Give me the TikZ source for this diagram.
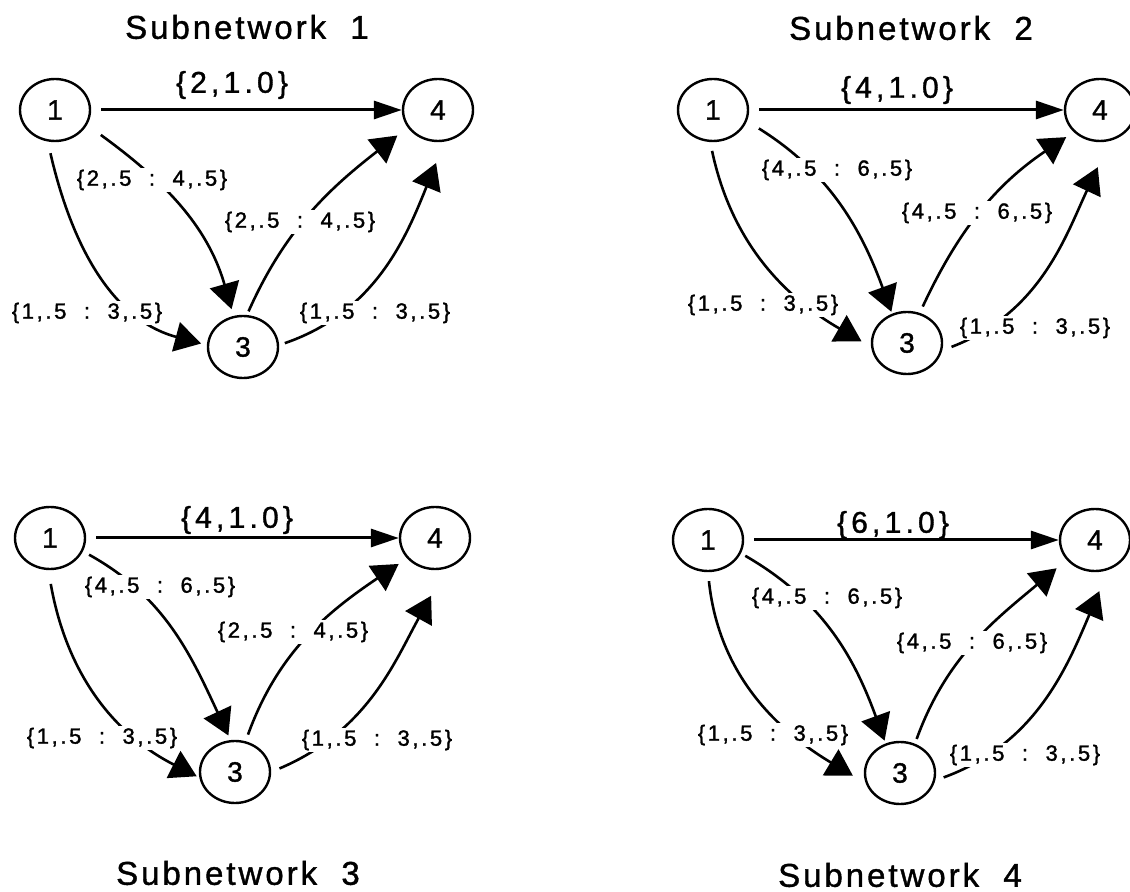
\documentclass[tikz,border=0pt]{standalone}
\usepackage{fontspec}
\setmainfont{Liberation Sans}
\newfontfamily\nofont[FakeBold=1.2]{Liberation Sans}
\newfontfamily\rotfont[LetterSpace=12, FakeBold=1.5]{Liberation Sans}
\newfontfamily\pesofont[LetterSpace=14, FakeBold=1.2]{Liberation Sans}
\newfontfamily\titfont[LetterSpace=9, FakeBold=1.2]{Liberation Sans}
\usetikzlibrary{arrows.meta, shapes.geometric}

\begin{document}
\begin{tikzpicture}[x=0.5pt, y=0.5pt,
        no/.style={draw, ellipse, line width=1.2pt, minimum width=35pt, minimum height=31pt, inner sep=0pt, font=\nofont\fontsize{14}{14}\selectfont},
        rot/.style={fill=white, inner sep=1pt, font=\rotfont\fontsize{11}{11}\selectfont},
        peso/.style={inner sep=1pt, font=\pesofont\fontsize{15}{15}\selectfont},
        titulo/.style={font=\titfont\fontsize{16.5}{16.5}\selectfont},
        reta/.style={-{Triangle[length=14pt, width=9pt]}, line width=1.5pt, shorten <=5pt},
        seta/.style={-{Triangle[length=13pt, width=15pt]}, line width=1.3pt}]

        \useasboundingbox (0,0) rectangle (1130,-892);

        % Sub-rede 1
        \node (t1) [titulo] at (247,-27) {Subnetwork\ \ 1};
        \node (s1n1) [no] at (55,-110) {1};
        \node (s1n3) [no] at (243,-347) {3};
        \node (s1n4) [no] at (438,-110) {4};
        \draw[reta] (s1n1) -- (s1n4);
        \draw[seta, shorten <=6pt, shorten >=3pt] (s1n1.257) to[out=-77, in=165] (s1n3.177);
        \draw[seta, shorten <=8.5pt, shorten >=3.5pt] (s1n1.-25) to[out=-36, in=106] (s1n3.107);
        \draw[seta, shorten <=2pt, shorten >=6.5pt] (s1n3.83) to[out=66, in=218] (s1n4.210);
        \draw[seta, shorten <=3pt, shorten >=11.5pt] (s1n3.3) to[out=19, in=248] (s1n4.282);
        \node (p1) [peso] at (232,-85) {\{2,1.0\}};
        \node (r1a) [rot] at (152,-180) {\{2,.5\ \ :\ \ 4,.5\}};
        \node (r1b) [rot] at (300,-222) {\{2,.5\ \ :\ \ 4,.5\}};
        \node (r1c) [rot] at (87,-313) {\{1,.5\ \ :\ \ 3,.5\}};
        \node (r1d) [rot] at (375,-313) {\{1,.5\ \ :\ \ 3,.5\}};

        % Sub-rede 2
        \node (t2) [titulo] at (911,-28) {Subnetwork\ \ 2};
        \node (s2n1) [no] at (713,-110) {1};
        \node (s2n3) [no] at (907,-343) {3};
        \node (s2n4) [no] at (1100,-110) {4};
        \draw[reta] (s2n1) -- (s2n4);
        \draw[seta, shorten <=4.5pt, shorten >=5.5pt] (s2n1.265) to[out=-78, in=150] (s2n3.186);
        \draw[seta, shorten <=7pt, shorten >=1pt] (s2n1.-18) to[out=-32, in=110] (s2n3.117);
        \draw[seta, shorten <=3.5pt, shorten >=4.5pt] (s2n3.67) to[out=65, in=214] (s2n4.220);
        \draw[seta, shorten <=5pt, shorten >=14.5pt] (s2n3.-12) to[out=21, in=245] (s2n4.-72);
        \node (p2) [peso] at (897,-90) {\{4,1.0\}};
        \node (r2a) [rot] at (837,-170) {\{4,.5\ \ :\ \ 6,.5\}};
        \node (r2b) [rot] at (977,-213) {\{4,.5\ \ :\ \ 6,.5\}};
        \node (r2c) [rot] at (763,-305) {\{1,.5\ \ :\ \ 3,.5\}};
        \node (r2d) [rot] at (1035,-328) {\{1,.5\ \ :\ \ 3,.5\}};

        % Sub-rede 3
        \node (t3) [titulo] at (238,-873) {Subnetwork\ \ 3};
        \node (s3n1) [no] at (50,-538) {1};
        \node (s3n3) [no] at (235,-772) {3};
        \node (s3n4) [no] at (435,-538) {4};
        \draw[reta] (s3n1) -- (s3n4);
        \draw[seta, shorten <=7pt, shorten >=1.5pt] (s3n1.267) to[out=-80, in=153] (s3n3.189);
        \draw[seta, shorten <=3.5pt, shorten >=2.5pt] (s3n1.-22) to[out=-29, in=115] (s3n3.98);
        \draw[seta, shorten <=3.5pt, shorten >=5pt] (s3n3.71) to[out=70, in=214] (s3n4.216);
        \draw[seta, shorten <=4.5pt, shorten >=15.5pt] (s3n3.0) to[out=23, in=241] (s3n4.-70);
        \node (p3) [peso] at (237,-520) {\{4,1.0\}};
        \node (r3a) [rot] at (160,-587) {\{4,.5\ \ :\ \ 6,.5\}};
        \node (r3b) [rot] at (293,-632) {\{2,.5\ \ :\ \ 4,.5\}};
        \node (r3c) [rot] at (102,-738) {\{1,.5\ \ :\ \ 3,.5\}};
        \node (r3d) [rot] at (377,-740) {\{1,.5\ \ :\ \ 3,.5\}};

        % Sub-rede 4
        \node (t4) [titulo] at (900,-875) {Subnetwork\ \ 4};
        \node (s4n1) [no] at (708,-540) {1};
        \node (s4n3) [no] at (900,-773) {3};
        \node (s4n4) [no] at (1095,-540) {4};
        \draw[reta] (s4n1) -- (s4n4);
        \draw[seta, shorten <=4.5pt, shorten >=7.5pt] (s4n1.270) to[out=-84, in=149] (s4n3.197);
        \draw[seta, shorten <=2.5pt, shorten >=1.5pt] (s4n1.-22) to[out=-30, in=110] (s4n3.116);
        \draw[seta, shorten <=2.5pt, shorten >=6.5pt] (s4n3.63) to[out=70, in=220] (s4n4.215);
        \draw[seta, shorten <=4.5pt, shorten >=11.5pt] (s4n3.-12) to[out=20, in=247] (s4n4.-66);
        \node (p4) [peso] at (893,-525) {\{6,1.0\}};
        \node (r4a) [rot] at (827,-598) {\{4,.5\ \ :\ \ 6,.5\}};
        \node (r4b) [rot] at (972,-643) {\{4,.5\ \ :\ \ 6,.5\}};
        \node (r4c) [rot] at (773,-735) {\{1,.5\ \ :\ \ 3,.5\}};
        \node (r4d) [rot] at (1025,-755) {\{1,.5\ \ :\ \ 3,.5\}};
\end{tikzpicture}
\end{document}
